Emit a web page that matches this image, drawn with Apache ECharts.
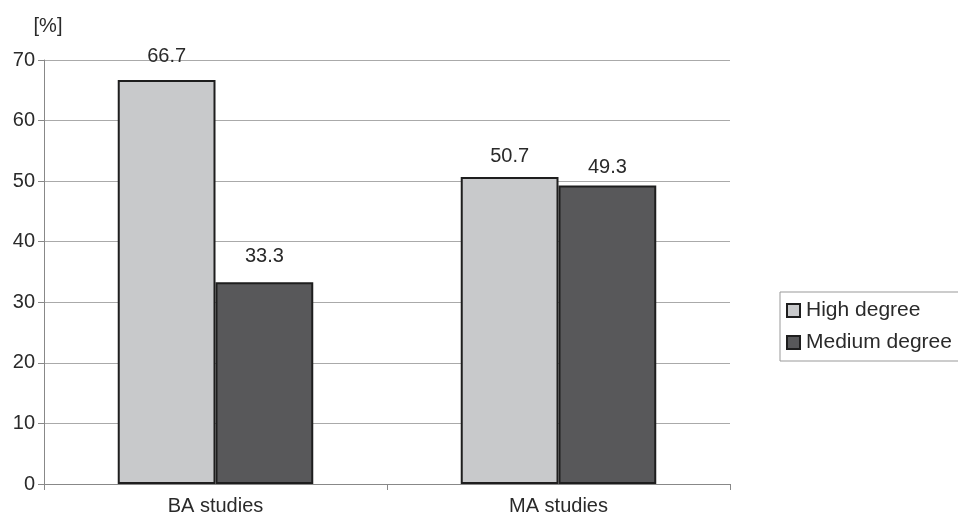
<!DOCTYPE html>
<html>
<head>
<meta charset="utf-8">
<script src="https://cdn.jsdelivr.net/npm/echarts@6/dist/echarts.min.js"></script>
<style>
  html, body { margin: 0; padding: 0; background: #fff; }
  #chart { width: 958px; height: 516px; }
</style>
</head>
<body>
<div id="chart"></div>
<script>
// Share of students by degree level, per study programme
const categories = ['BA studies', 'MA studies'];
const highDegree = [66.7, 50.7];
const mediumDegree = [33.3, 49.3];
const seriesNames = ['High degree', 'Medium degree'];

// gap between each value label and the top of its bar
const highLabelGap = [14, 10];
const mediumLabelGap = [16, 8];

const font = 'Liberation Sans, Arial, sans-serif';

function withLabels(values, gaps) {
  return values.map((v, i) => ({ value: v, label: { distance: gaps[i] } }));
}

const labelStyle = {
  show: true, position: 'top', fontFamily: font, fontSize: 20, color: '#2a2a2a',
  formatter: p => p.value.toFixed(1)
};

const chart = echarts.init(document.getElementById('chart'));
chart.setOption({
  backgroundColor: '#fff',
  animation: false,
  grid: { left: 44, right: 228, top: 60, bottom: 32, containLabel: false },
  legend: {
    orient: 'vertical',
    left: 780,
    top: 292,
    padding: [8, 30, 8, 6],
    itemGap: 11,
    itemWidth: 13,
    itemHeight: 13,
    borderColor: '#999',
    borderWidth: 1,
    textStyle: { fontFamily: font, fontSize: 21, color: '#2a2a2a', padding: [0, 0, 0, 1] },
    data: seriesNames.map(n => ({ name: n, icon: 'rect' }))
  },
  xAxis: {
    type: 'category',
    data: categories,
    axisLine: { show: true, lineStyle: { color: '#888', width: 1 } },
    axisTick: { show: true, alignWithLabel: false, length: 6, lineStyle: { color: '#888' } },
    axisLabel: { fontFamily: font, fontSize: 20, color: '#2a2a2a', margin: 12 }
  },
  yAxis: {
    type: 'value',
    min: 0,
    max: 70,
    interval: 10,
    name: '[%]',
    nameLocation: 'end',
    nameGap: 24,
    nameTextStyle: { fontFamily: font, fontSize: 20, color: '#2a2a2a', align: 'center', padding: [0, 0, 0, 8] },
    axisLine: { show: true, lineStyle: { color: '#888', width: 1 } },
    axisTick: { show: true, length: 6, lineStyle: { color: '#888' } },
    axisLabel: { fontFamily: font, fontSize: 20, color: '#2a2a2a', margin: 9 },
    splitLine: { show: true, lineStyle: { color: '#aaa', width: 1 } }
  },
  series: [
    {
      name: seriesNames[0],
      type: 'bar',
      data: withLabels(highDegree, highLabelGap),
      barCategoryGap: '43%',
      barGap: '0%',
      itemStyle: { color: '#c8c9cb', borderColor: '#1e1e1e', borderWidth: 2 },
      label: labelStyle
    },
    {
      name: seriesNames[1],
      type: 'bar',
      data: withLabels(mediumDegree, mediumLabelGap),
      barGap: '0%',
      itemStyle: { color: '#58585a', borderColor: '#1e1e1e', borderWidth: 2 },
      label: labelStyle
    }
  ]
});
</script>
</body>
</html>
